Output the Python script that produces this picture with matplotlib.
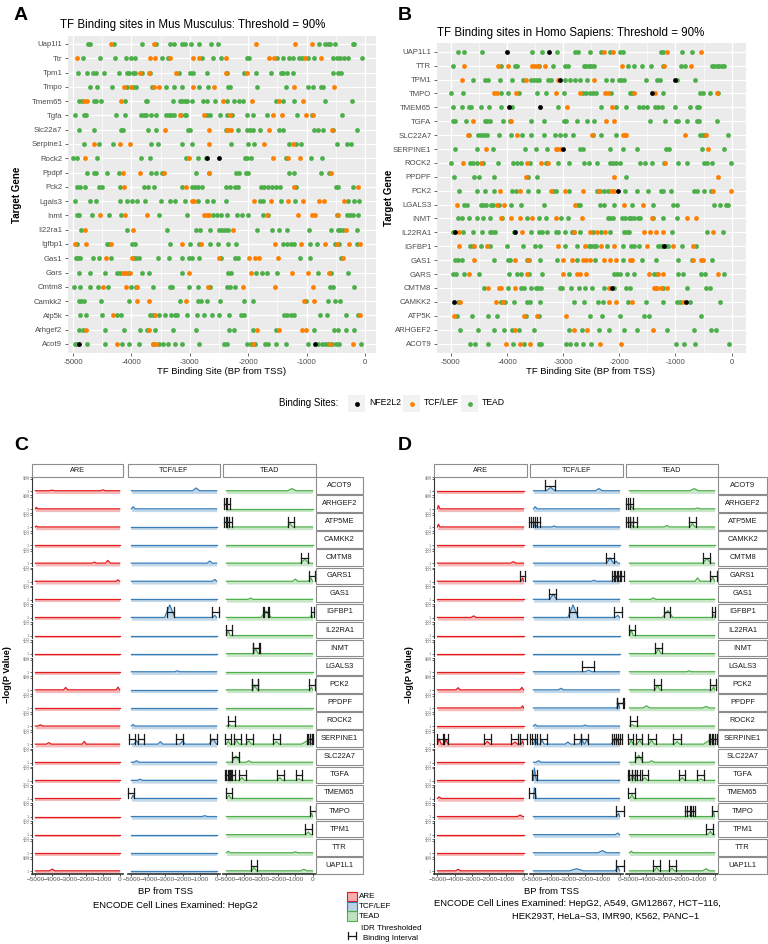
import numpy as np
import matplotlib
matplotlib.use('Agg')
import matplotlib.pyplot as plt
from matplotlib.patches import Rectangle
from matplotlib.ticker import MultipleLocator

plt.rcParams['font.family'] = ['Liberation Sans', 'DejaVu Sans']

W, H = 768, 944
fig = plt.figure(figsize=(W / 100, H / 100), dpi=100)

GREEN = '#4DAF4A'
ORANGE = '#FF7F00'
RED = '#E41A1C'
BLUE = '#377EB8'

# ---------------------------------------------------------------- panel A data
MM_GENES = ["Uap1l1", "Ttr", "Tpm1", "Tmpo", "Tmem65", "Tgfa", "Slc22a7", "Serpine1", "Rock2", "Ppdpf",
            "Pck2", "Lgals3", "Inmt", "Il22ra1", "Igfbp1", "Gas1", "Gars", "Cmtm8", "Camkk2", "Atp5k",
            "Arhgef2", "Acot9"]
MM_TEAD = [
    [-4743, -4703, -4297, -3811, -3571, -3343, -3274, -3126, -3086, -2983, -2846, -2629, -2514, -783, -686, -629, -600, -514, -211, -183],
    [-4829, -4543, -4286, -4086, -4000, -3943, -3469, -3371, -2783, -2611, -2474, -2029, -1983, -1514, -1400, -1297, -1229, -1126, -1086, -971, -874, -554, -474, -429, -360, -286, -57],
    [-4914, -4760, -4657, -4611, -4469, -4211, -4074, -4040, -3971, -3943, -3811, -3674, -3189, -2989, -2943, -2714, -2360, -2074, -1869, -1617, -1446, -1400, -1343, -1229, -554, -457, -417],
    [-4703, -4589, -4326, -4074, -3971, -3914, -3640, -3411, -3274, -3126, -2846, -2686, -2354, -2314, -1846, -1354, -971, -886, -760, -714],
    [-4897, -4840, -4646, -4600, -4514, -4114, -3754, -3726, -3286, -3171, -3126, -3086, -3046, -2971, -2771, -2703, -2571, -2360, -2246, -2154, -2097, -1526, -1411, -1217, -686, -229],
    [-4971, -4817, -4783, -4257, -4114, -3829, -3789, -3743, -3657, -3571, -3411, -3354, -3314, -3274, -3143, -3086, -3057, -2714, -2646, -2486, -2371, -2286, -2029, -1926, -1686, -1171, -914, -400],
    [-4903, -4640, -4171, -4143, -3714, -3571, -3029, -2989, -2389, -2343, -2171, -2017, -1971, -1926, -1800, -1469, -1411, -874, -800, -726, -543, -143],
    [-4817, -4554, -4314, -3657, -3543, -3126, -2960, -2303, -2000, -1903, -1297, -1183, -1103, -486, -314, -240],
    [-5000, -4931, -4583, -3829, -3686, -3069, -2857, -2731, -2057, -2017, -1960, -1354, -931, -743],
    [-4760, -4646, -4600, -4411, -4211, -3657, -3583, -3480, -2886, -2680, -2211, -2160, -2046, -2011, -1297, -1211, -760, -611],
    [-4931, -4874, -4794, -4560, -4503, -4200, -3789, -3714, -3617, -3126, -2971, -2914, -2857, -2800, -2389, -2314, -2229, -2171, -1789, -1731, -1657, -1600, -1526, -1457, -1189, -503, -457, -211],
    [-4971, -4714, -4611, -4189, -4069, -3983, -3903, -3771, -3486, -3343, -3257, -3086, -2857, -2714, -2600, -2383, -1800, -1743, -1440, -1200, -297, -183, -97],
    [-4931, -4897, -4669, -4389, -4171, -3531, -3046, -2611, -2531, -2469, -2371, -2200, -2114, -2011, -1743, -1669, -486, -314, -257, -200, -114],
    [-4857, -4074, -3389, -2897, -2829, -2646, -2503, -2457, -2400, -2343, -1857, -1600, -1469, -1331, -954, -583, -469, -429, -371, -143],
    [-4931, -4417, -4383, -3983, -3943, -3331, -2997, -2846, -2657, -2514, -2354, -2211, -1411, -1343, -1274, -1211, -937, -823, -514, -440, -131],
    [-4954, -4914, -4886, -4657, -4560, -4343, -3960, -3914, -3874, -3543, -3354, -3126, -3011, -2971, -2840, -2469, -2229, -2171, -1114, -943, -417],
    [-4903, -4714, -4451, -4246, -4200, -4057, -3811, -3703, -3126, -2343, -2303, -1869, -1771, -1686, -1514, -800, -583, -286],
    [-4989, -4874, -4714, -4571, -4400, -4011, -3926, -3629, -3343, -3297, -3017, -2857, -2657, -2371, -2314, -2229, -600, -554, -183],
    [-4899, -4857, -4815, -4521, -4042, -3176, -2857, -2815, -2714, -2487, -2067, -1916, -1017, -639, -513, -420],
    [-4874, -4773, -4496, -4244, -4185, -3681, -3639, -3529, -3429, -3319, -3261, -3219, -3050, -2882, -2756, -2613, -2504, -2336, -2126, -2067, -1387, -1328, -1269, -1219, -765, -656, -319, -126],
    [-4899, -4832, -4454, -4126, -3849, -3740, -3597, -3286, -2899, -2336, -2252, -1916, -1521, -866, -529, -462, -319, -193],
    [-4966, -4924, -4765, -4454, -4168, -4034, -3874, -3639, -3529, -3454, -3370, -3261, -3134, -2840, -2420, -2361, -2017, -1958, -1891, -1706, -1664, -1521, -1353, -975, -798, -739, -681, -630, -571, -504, -445, -67],
]
MM_TCF = [
    [-4354, -3611, -1874, -1200, -914],
    [-4926, -3686, -3600, -3343, -2943, -2846, -2389, -1651, -1560, -1029, -760],
    [-3857, -3697, -3240, -2389, -2017],
    [-4131, -4000, -3617, -3531, -2954, -2583, -1217, -526],
    [-4817, -4760, -4171, -2429, -1943, -1469, -1057],
    [-3171, -2760, -2314, -1571, -1429, -1011, -886],
    [-3429, -2674, -2371, -2297, -1640, -571],
    [-4646, -4189, -4029, -2674, -1731, -1240],
    [-4789, -3017, -1571, -1326, -1114],
    [-4137, -3846, -3434, -2669, -583],
    [-4126, -3074, -1217, -114],
    [-2960, -2931, -1903, -1611, -1314, -1069, -783, -703, -354],
    [-4531, -4114, -3726, -2760, -2714, -2669, -1686, -1143, -914, -857, -469],
    [-4789, -3971, -2257, -331],
    [-4971, -4771, -4343, -3126, -2817, -1543, -1097, -686, -474, -269, -86],
    [-4440, -3994, -2497, -1989, -1886, -1811, -1497, -371],
    [-4143, -4114, -4017, -3011, -1954, -1246, -971, -611],
    [-4486, -4097, -3897, -2686, -2097, -1543, -886],
    [-3908, -3706, -3067, -1050, -866],
    [-4311, -3597, -92],
    [-4773, -3706, -1857, -1479, -1076, -1017],
    [-4252, -3622, -3571, -1916, -597, -210],
]
MM_NFE2L2 = [[], [], [], [], [], [], [], [], [-2703, -2497], [], [], [], [], [], [], [], [], [], [], [], [],
             [-4899, -849]]

# ---------------------------------------------------------------- panel B data
HS_GENES = ["UAP1L1", "TTR", "TPM1", "TMPO", "TMEM65", "TGFA", "SLC22A7", "SERPINE1", "ROCK2", "PPDPF",
            "PCK2", "LGALS3", "INMT", "IL22RA1", "IGFBP1", "GAS1", "GARS", "CMTM8", "CAMKK2", "ATP5K",
            "ARHGEF2", "ACOT9"]
HS_TEAD = [
    [-4870, -4775, -4438, -3550, -3385, -3118, -2781, -2740, -2527, -2325, -2160, -1994, -1935, -1254, -1213, -888, -698],
    [-4970, -4101, -3864, -3817, -3432, -3183, -2959, -2911, -2633, -2586, -2544, -2503, -2444, -1846, -1746, -1598, -1438, -1225, -900, -828, -355, -308, -266, -219, -178, -130],
    [-4615, -4396, -4337, -4124, -3917, -3716, -3580, -3521, -3473, -3432, -3272, -3225, -2959, -2870, -2793, -2692, -2574, -2231, -2130, -2012, -1970, -1911, -1521, -1331, -1284, -976, -651],
    [-5000, -4781, -4112, -3982, -3787, -3462, -3302, -2988, -2645, -2586, -2527, -2468, -2408, -2148, -1817, -1775, -1213, -562, -503, -385, -237],
    [-4970, -4811, -4675, -4645, -4456, -4320, -4101, -3905, -3095, -2320, -2059, -1882, -1657, -1580, -1509, -1361, -1302, -1243, -1006, -740, -621, -574],
    [-4970, -4929, -4734, -4396, -4349, -4308, -4065, -3947, -3580, -3343, -2988, -2941, -2751, -2574, -2444, -1450, -1178, -988, -959, -799, -621, -574, -266],
    [-4675, -4509, -4456, -4408, -4361, -4142, -3923, -3728, -3580, -3343, -3148, -3065, -2970, -2822, -2468, -2320, -2059, -562, -515, -473, -59],
    [-4929, -4527, -4243, -3686, -3491, -3284, -2692, -2645, -2160, -1935, -1686, -1166, -1107, -533, -136],
    [-5000, -4657, -4598, -4538, -4420, -4160, -3894, -3828, -3746, -3598, -3302, -3095, -2900, -2633, -2533, -2397, -2160, -2112, -2059, -1994, -1639, -1550, -1420, -1201, -959, -787, -491, -432, -355, -12],
    [-4953, -4586, -4497, -4231, -3627, -3473, -1882],
    [-4852, -4544, -4396, -4231, -3905, -3846, -3627, -3450, -3178, -3136, -2900, -2397, -2337, -2266, -2207, -1893, -1686, -1497, -1254, -1213, -1083, -669, -621, -491, -367],
    [-4763, -4716, -4467, -4420, -4379, -4290, -4243, -4142, -3923, -3757, -3343, -2740, -2692, -2337, -2278, -2089, -1775, -1391, -1047, -976, -308, -207, -101, -59],
    [-4870, -4811, -4675, -4544, -4420, -4302, -4089, -3639, -3432, -3314, -3030, -2911, -2201, -2160, -2112, -1953, -1893, -1834, -1787, -1734, -1675, -1627, -1391, -1225, -965],
    [-4959, -4793, -4598, -4450, -4302, -4260, -4219, -3876, -3580, -3432, -3373, -3284, -3136, -3095, -2959, -2840, -2799, -2692, -2468, -2325, -2160, -1911, -1864, -1823, -1065, -444, -148],
    [-4657, -4615, -4467, -4302, -4006, -3710, -3503, -3414, -2970, -2751, -2544, -2503, -2456, -2408, -2219, -1935, -1787, -1746, -1657, -1302, -1260, -1225, -1166, -1124, -888, -639],
    [-4929, -4882, -4811, -4231, -3982, -3947, -3651, -3610, -3414, -3107, -2751, -2426, -1941, -1598, -1349, -947, -710, -355],
    [-4970, -4911, -4763, -4497, -3964, -3817, -3757, -3610, -3373, -2900, -2101, -2041, -1982, -1864, -1734, -1379, -1331, -947, -870, -550, -473, -136],
    [-4408, -3982, -3746, -3698, -3580, -3491, -3450, -3402, -3065, -3018, -2858, -2722, -2615, -2485, -2278, -2089, -1876, -1805, -1343, -1225, -799, -456, -385],
    [-4870, -4099, -4029, -3873, -3640, -3596, -3405, -2799, -2625, -2383, -2296, -1837, -1516, -1213, -979, -910, -736, -199],
    [-4896, -4619, -4333, -4185, -3665, -3423, -2530, -2313, -1993, -1559, -1473, -537],
    [-4835, -4523, -4229, -4047, -3917, -3787, -3527, -2903, -2660, -2357, -2183, -1924, -1690, -1153, -667, -372, -277],
    [-4653, -4567, -4333, -3899, -3700, -3423, -3397, -2946, -2877, -2773, -2643, -2513, -996, -840, -650, -43],
]
HS_TCF = [
    [-2266, -2112, -1142, -550],
    [-4775, -4160, -3976, -3550, -3509, -3450, -3325, -1953, -1195, -728],
    [-4811, -3669, -3095, -2456],
    [-4231, -4183, -3846, -3136, -2692, -2249, -2207, -1734, -1361, -266],
    [-2929, -2130],
    [-4598, -3935, -2231, -2101],
    [-4704, -3828, -2485, -1941, -1905, -1876, -828, -456],
    [-4367, -3136, -3106, -3065, -414],
    [-4787, -4467, -3639, -3391, -3272, -1183],
    [-3669, -2101, -237],
    [-4124, -3769, -3213, -2970, -2651, -2367, -2142, -2089, -326, -18],
    [-4899, -4172, -4053, -2781, -1911, -1580],
    [-4112, -3935, -3769, -3562, -3136, -2663, -1420, -787, -633],
    [-4852, -3740, -2811, -2515, -2397, -2260, -1568, -1450, -1343, -1225, -326],
    [-4852, -4586, -4349, -3095, -2615, -2320, -2101, -1509, -1047, -692],
    [-4586, -3864, -3627, -3000, -2840, -2645, -2586, -2527, -2278, -2160, -2059, -1817, -1775, -680, -544, -503],
    [-4675, -3639, -3000, -2751, -2692, -2592, -1479, -1302, -1213, -249],
    [-4337, -4142, -4112, -3864, -2189, -1379, -1320, -1260, -1142],
    [-4835, -4203, -4073, -2183, -2054, -1776, -866],
    [-4939, -3700, -3466, -2946],
    [-3856, -2816, -2573, -1404],
    [-4012, -3769, -3596, -2340, -1967],
]
HS_NFE2L2 = [[-4006, -3254], [], [-3065, -1006], [-1414], [-3965, -3420], [], [], [-3000], [], [], [-2030], [],
             [], [-4923, -3858], [-1195], [], [], [-2130], [-4939, -806], [], [], []]

# ---------------------------------------------------------------- panels C / D data
FACET_GENES = ["ACOT9", "ARHGEF2", "ATP5ME", "CAMKK2", "CMTM8", "GARS1", "GAS1", "IGFBP1", "IL22RA1", "INMT",
               "LGALS3", "PCK2", "PPDPF", "ROCK2", "SERPINE1", "SLC22A7", "TGFA", "TMEM65", "TMPO", "TPM1",
               "TTR", "UAP1L1"]
TFS = ["ARE", "TCF/LEF", "TEAD"]
BASE = 0.05  # baseline of the profile (log10 units)

# bumps: (position bp, height in log10 units, half width bp)
C_PEAKS_ARE = {"ACOT9": [(-4000, 0.15, 150), (-1000, 0.2, 150)], "ARHGEF2": [(-4950, 0.3, 100)],
               "ATP5ME": [(-4950, 0.2, 100)], "CMTM8": [(-1500, 0.2, 150), (-700, 0.5, 150)],
               "PCK2": [(-3200, 0.45, 120), (-100, 0.5, 100)], "SERPINE1": [(-4200, 0.3, 150), (-2100, 0.5, 120)],
               "UAP1L1": [(-4000, 0.35, 150)], "GARS1": [(-100, 0.3, 100)], "ROCK2": [(-4700, 0.25, 150)]}
C_PEAKS_TCF = {"ACOT9": [(-1200, 0.5, 200)], "IGFBP1": [(-2750, 2.1, 300), (-100, 0.4, 150)],
               "CMTM8": [(-400, 0.4, 150)], "GARS1": [(-100, 0.35, 150)], "ARHGEF2": [(-4900, 0.4, 120)],
               "SERPINE1": [(-4700, 0.6, 150), (-3300, 0.45, 150), (-2000, 0.6, 150), (-200, 0.9, 250)],
               "SLC22A7": [(-4700, 0.3, 150)], "TGFA": [(-4500, 0.25, 150)], "TMEM65": [(-4900, 0.6, 100)],
               "LGALS3": [(-2300, 0.2, 150)], "ROCK2": [(-4900, 0.3, 120)], "TMPO": [(-700, 0.2, 150)]}
C_PEAKS_TEAD = {"ACOT9": [(-1200, 0.4, 250)], "ATP5ME": [(-4900, 0.3, 120), (-1300, 0.6, 150)],
                "CMTM8": [(-450, 0.7, 250)], "GARS1": [(-1000, 0.4, 150), (-100, 0.6, 150)],
                "GAS1": [(-3600, 0.25, 150)], "IGFBP1": [(-2700, 1.1, 300), (-50, 0.5, 100)],
                "IL22RA1": [(-4900, 0.8, 120)], "INMT": [(-3300, 0.8, 150)],
                "PCK2": [(-3350, 0.7, 150), (-50, 0.5, 100)], "ROCK2": [(-4850, 0.3, 120)],
                "SERPINE1": [(-4900, 0.6, 120), (-4400, 0.6, 150), (-3700, 0.6, 150), (-2100, 0.5, 150), (-300, 0.6, 350)],
                "SLC22A7": [(-4450, 1.1, 250), (-3700, 0.3, 150)],
                "TGFA": [(-4800, 0.7, 150), (-4100, 0.5, 150), (-1900, 0.5, 150), (-800, 0.3, 150)],
                "TMEM65": [(-4850, 0.6, 120)], "TMPO": [(-50, 0.6, 100)], "TPM1": [(-250, 0.5, 150)],
                "TTR": [(-4900, 0.3, 120), (-1000, 0.2, 150)], "UAP1L1": [(-3400, 0.6, 150), (-500, 0.3, 200)]}

D_PEAKS_ARE = {"ARHGEF2": [(-4950, 0.6, 100)], "ATP5ME": [(-4950, 0.5, 100)], "IGFBP1": [(-2900, 0.3, 150)],
               "GARS1": [(-50, 0.6, 100)], "PCK2": [(-3800, 0.4, 120), (-100, 0.45, 100)],
               "SERPINE1": [(-4900, 0.9, 120), (-4500, 0.8, 120), (-2100, 0.5, 150), (-500, 0.4, 150), (-50, 0.6, 100)],
               "TMEM65": [(-4900, 0.3, 120)], "TMPO": [(-200, 0.3, 150)], "PPDPF": [(-50, 0.4, 100)],
               "UAP1L1": [(-3800, 0.3, 150)], "CMTM8": [(-600, 0.3, 150)]}
D_PEAKS_TCF = {"ACOT9": [(-4000, 0.6, 250), (-1200, 0.4, 200)], "ARHGEF2": [(-4900, 0.4, 120)],
               "ATP5ME": [(-4900, 0.5, 120), (-3800, 0.2, 150)], "CMTM8": [(-550, 0.9, 200), (-200, 0.4, 100)],
               "GARS1": [(-1500, 0.2, 150), (-200, 0.7, 250)], "GAS1": [(-3850, 0.9, 200)],
               "IGFBP1": [(-2700, 2.1, 300), (-100, 0.4, 150)], "LGALS3": [(-1800, 0.3, 200)],
               "PCK2": [(-3400, 0.3, 150)], "PPDPF": [(-50, 0.7, 120)], "ROCK2": [(-4900, 0.3, 120), (-2000, 0.2, 150)],
               "SERPINE1": [(-4900, 0.8, 120), (-4500, 0.7, 120), (-3000, 0.4, 150), (-2200, 0.9, 150), (-1900, 0.8, 120), (-200, 1.0, 300)],
               "SLC22A7": [(-4700, 0.3, 150)], "TGFA": [(-4950, 2.1, 120)], "TMEM65": [(-4950, 1.8, 120)],
               "TMPO": [(-50, 0.6, 120)], "TPM1": [(-100, 0.3, 150)], "TTR": [(-1000, 0.4, 250)],
               "UAP1L1": [(-2500, 0.4, 400), (-100, 0.7, 150)]}
D_PEAKS_TEAD = {"ACOT9": [(-1200, 0.4, 250)], "ARHGEF2": [(-4900, 0.5, 120), (-1000, 0.2, 150)],
                "ATP5ME": [(-4900, 0.5, 120), (-2800, 0.3, 150), (-1300, 0.6, 150)], "CMTM8": [(-450, 0.8, 250)],
                "GARS1": [(-1000, 0.6, 150), (-100, 0.7, 150)], "GAS1": [(-3600, 0.3, 150)],
                "IGFBP1": [(-2750, 1.2, 300), (-50, 0.5, 100)], "IL22RA1": [(-4900, 1.0, 120)],
                "INMT": [(-3300, 0.9, 150)], "LGALS3": [(-1500, 0.2, 150)],
                "PCK2": [(-3350, 0.8, 150), (-50, 0.6, 100)], "PPDPF": [(-4000, 0.4, 200), (-500, 0.3, 200)],
                "ROCK2": [(-4850, 0.3, 120)],
                "SERPINE1": [(-4900, 0.7, 120), (-4400, 0.7, 150), (-3700, 0.7, 150), (-2200, 0.5, 150), (-300, 0.7, 350)],
                "SLC22A7": [(-4450, 1.2, 250), (-3700, 0.3, 150)],
                "TGFA": [(-4800, 0.8, 150), (-4100, 0.5, 150), (-1900, 0.5, 150), (-800, 0.3, 150)],
                "TMEM65": [(-4850, 0.7, 120)], "TMPO": [(-1400, 0.3, 200), (-50, 0.7, 100)],
                "TPM1": [(-250, 0.6, 150)], "TTR": [(-4900, 0.3, 120)],
                "UAP1L1": [(-3400, 0.6, 150), (-2500, 0.5, 150), (-500, 0.4, 200)]}

# IDR thresholded binding intervals (start, end) bp
C_IDR_ARE = {}
C_IDR_TCF = {"IGFBP1": [(-2940, -2490), (-250, 140)],
             "SERPINE1": [(-5160, -4760), (-4630, -4240), (-2370, -1980), (-400, 0)],
             "TMEM65": [(-5220, -4860)]}
C_IDR_TEAD = {"ARHGEF2": [(-5150, -4950), (-5000, -4820)],
              "ATP5ME": [(-5150, -4950), (-5050, -4850), (-4950, -4700), (-1450, -1060)],
              "CMTM8": [(-647, -255)], "GARS1": [(-220, 130)],
              "IGFBP1": [(-2880, -2550), (-2820, -2600), (-100, 80)],
              "IL22RA1": [(-5040, -4650)], "INMT": [(-3470, -3080), (-3440, -3100)],
              "PCK2": [(-3530, -3140), (-3500, -3160), (-220, 170)], "ROCK2": [(-4920, -4530)],
              "SERPINE1": [(-5100, -4760), (-4550, -4180), (-3860, -3430), (-2300, -1900), (-330, -150), (-250, -50), (-150, 0)],
              "SLC22A7": [(-4650, -4260)],
              "TGFA": [(-5100, -4850), (-5000, -4750), (-4900, -4650), (-4800, -4500), (-4260, -3860), (-2060, -1670), (-980, -590)],
              "TMEM65": [(-5040, -4650)], "TMPO": [(-150, 200)], "TPM1": [(-450, -60)], "UAP1L1": [(-3590, -3200)]}

D_IDR_ARE = {"GARS1": [(-196, 98)],
             "SERPINE1": [(-5039, -4647), (-4706, -4373), (-2294, -1902), (-725, -333), (-196, 196)]}
D_IDR_TCF = {"ACOT9": [(-4353, -3725)], "ATP5ME": [(-5235, -4900), (-5150, -4800), (-5000, -4608)],
             "CMTM8": [(-784, -333)], "GARS1": [(-450, -100), (-350, 0), (-250, 100), (-150, 255)],
             "GAS1": [(-4078, -3667)], "IGFBP1": [(-2941, -2451), (-294, 137)], "LGALS3": [(-2157, -1510)],
             "PPDPF": [(-157, 235), (-120, 200)],
             "SERPINE1": [(-5196, -4900), (-5100, -4765), (-4608, -4216), (-2647, -2255), (-2255, -1824), (-431, -100), (-300, 0), (-200, 137)],
             "TGFA": [(-5098, -4804)], "TMEM65": [(-5255, -4902)], "TMPO": [(-196, 235)], "UAP1L1": [(-196, 235)]}
D_IDR_TEAD = {"ARHGEF2": [(-5216, -4950), (-5100, -4804)],
              "ATP5ME": [(-5216, -4950), (-5100, -4800), (-4950, -4569), (-1510, -1078)],
              "CMTM8": [(-686, -255)], "GARS1": [(-255, 137)],
              "IGFBP1": [(-2941, -2608), (-157, 40)], "IL22RA1": [(-5039, -4647)], "INMT": [(-3490, -3098)],
              "PCK2": [(-3549, -3157), (-255, 98)], "ROCK2": [(-4961, -4569)],
              "SERPINE1": [(-5098, -4804), (-4627, -4235), (-3882, -3431), (-2412, -1980), (-353, -150), (-250, 0), (-100, 137)],
              "SLC22A7": [(-4667, -4275)],
              "TGFA": [(-5098, -4850), (-5000, -4700), (-4850, -4550), (-4700, -4373), (-4275, -3882), (-2118, -1725), (-1039, -647)],
              "TMEM65": [(-5059, -4667)], "TMPO": [(-1725, -1400), (-1600, -1250), (-1450, -1137), (-157, 196)],
              "TPM1": [(-510, -98)], "UAP1L1": [(-3627, -3196), (-2667, -2275)]}


# ---------------------------------------------------------------- helpers
def ax_px(x0, y0, x1, y1):
    return fig.add_axes([x0 / W, 1 - y1 / H, (x1 - x0) / W, (y1 - y0) / H])


def txt(x, y, s, **kw):
    fig.text(x / W, 1 - y / H, s, **kw)


def dot_panel(box, genes, tead, tcf, nfe, xlim, ylim):
    ax = ax_px(*box)
    ax.set_facecolor('#EBEBEB')
    n = len(genes)
    for i in range(n):
        yv = n - i
        ax.scatter(tead[i], [yv] * len(tead[i]), s=12, color=GREEN, linewidths=0, zorder=3)
        ax.scatter(tcf[i], [yv] * len(tcf[i]), s=12, color=ORANGE, linewidths=0, zorder=4)
        ax.scatter(nfe[i], [yv] * len(nfe[i]), s=12, color='black', linewidths=0, zorder=5)
    ax.set_xlim(*xlim)
    ax.set_ylim(*ylim)
    ax.set_yticks(range(n, 0, -1))
    ax.set_yticklabels(genes)
    ax.set_xticks([-5000, -4000, -3000, -2000, -1000, 0])
    ax.set_xticklabels(['-5000', '-4000', '-3000', '-2000', '-1000', '0'])
    ax.xaxis.set_minor_locator(MultipleLocator(500))
    ax.grid(True, which='major', color='white', lw=0.9)
    ax.grid(True, which='minor', axis='x', color='white', lw=0.45)
    ax.set_axisbelow(True)
    for s in ax.spines.values():
        s.set_visible(False)
    ax.tick_params(axis='both', which='major', labelsize=5.6, colors='#4D4D4D', length=2.5, width=0.6, pad=1.5)
    ax.tick_params(axis='x', which='minor', length=0)
    for lab in ax.get_xticklabels() + ax.get_yticklabels():
        lab.set_color('#4D4D4D')
    return ax


# ---------------------------------------------------------------- panels A & B
dot_panel((68, 36, 376, 353), MM_GENES, MM_TEAD, MM_TCF, MM_NFE2L2, (-5086, 188), (0.37, 22.56))
dot_panel((437, 43, 746, 353), HS_GENES, HS_TEAD, HS_TCF, HS_NFE2L2, (-5248, 257), (0.32, 22.63))

txt(14, 16, 'A', fontsize=14, fontweight='bold', ha='left', va='center')
txt(398, 16, 'B', fontsize=14, fontweight='bold', ha='left', va='center')
txt(60, 25, 'TF Binding sites in Mus Musculus: Threshold = 90%', fontsize=8.3, ha='left', va='center')
txt(437, 33, 'TF Binding sites in Homo Sapiens: Threshold = 90%', fontsize=8.3, ha='left', va='center')
txt(17, 195, 'Target Gene', fontsize=7, fontweight='bold', rotation=90, ha='center', va='center')
txt(389, 198, 'Target Gene', fontsize=7, fontweight='bold', rotation=90, ha='center', va='center')
txt(222, 371, 'TF Binding Site (BP from TSS)', fontsize=6.8, ha='center', va='center')
txt(591, 371, 'TF Binding Site (BP from TSS)', fontsize=6.8, ha='center', va='center')

# legend for A/B
LEG_LABELS = ['NFE2L2', 'TCF/LEF', 'TEAD']
LEG_COLORS = ['black', ORANGE, GREEN]
LEG_KEY_X = [348, 403, 461]
txt(338, 403, 'Binding Sites:', fontsize=7, ha='right', va='center')
for kx, lab, col in zip(LEG_KEY_X, LEG_LABELS, LEG_COLORS):
    fig.patches.append(Rectangle((kx / W, 1 - 412 / H), 17 / W, 17 / H, transform=fig.transFigure,
                                 facecolor='#F2F2F2', edgecolor='none'))
    fig.lines.append(plt.Line2D([(kx + 8.5) / W], [1 - 403.5 / H], transform=fig.transFigure,
                                marker='o', markersize=3.5, color=col, markeredgewidth=0))
    txt(kx + 21, 403, lab, fontsize=6.2, ha='left', va='center')


# ---------------------------------------------------------------- panels C & D
def profile(bumps):
    pts = [(-5000, BASE), (0, BASE)]
    for c, h, w in bumps:
        pts += [(max(c - w, -5000), BASE), (c, h), (min(c + w, 0), BASE)]
    pts.sort()
    xs = [p[0] for p in pts]
    ys = [p[1] for p in pts]
    return xs, ys


def facet_panel(cols_x, strip_x, peaks, idrs):
    colors = [RED, BLUE, GREEN]
    row_top0, row_step, row_h = 477, 18.1, 16.5
    n = len(FACET_GENES)
    for j, tf in enumerate(TFS):
        x0, x1 = cols_x[j]
        fig.patches.append(Rectangle((x0 / W, 1 - 477 / H), (x1 - x0) / W, 13.5 / H, transform=fig.transFigure,
                                     facecolor='white', edgecolor='#8C8C8C', lw=0.8))
        txt((x0 + x1) / 2, 470, tf, fontsize=5.2, ha='center', va='center', color='#1A1A1A')
        for i, g in enumerate(FACET_GENES):
            top = row_top0 + row_step * i
            ax = ax_px(x0, top, x1, top + row_h)
            ax.set_facecolor('none')
            xs, ys = profile(peaks[j].get(g, []))
            ax.fill_between(xs, -0.4, ys, color=colors[j], alpha=0.3, lw=0)
            ax.plot(xs, ys, color=colors[j], lw=0.9)
            for a, b in idrs[j].get(g, []):
                ax.plot([a, b], [0.9, 0.9], color='#1A1A1A', lw=0.9, clip_on=False, zorder=5)
                ax.plot([a, a], [0.1, 1.75], color='#1A1A1A', lw=0.9, clip_on=False, zorder=5)
                ax.plot([b, b], [0.1, 1.75], color='#1A1A1A', lw=0.9, clip_on=False, zorder=5)
            ax.set_xlim(-5200, 200)
            ax.set_ylim(-0.4, 2.3)
            for s in ['top', 'right']:
                ax.spines[s].set_visible(False)
            if j == 0:
                ax.spines['left'].set_color('#333333')
                ax.spines['left'].set_linewidth(0.8)
                ax.set_yticks([0, 2, 2.3])
                ax.set_yticklabels(['1', '100', '200'])
                ax.tick_params(axis='y', labelsize=3, colors='#333333', length=1.5, width=0.5, pad=0.5)
                for lab in ax.get_yticklabels():
                    lab.set_color('#777777')
            else:
                ax.spines['left'].set_visible(False)
                ax.set_yticks([])
            if i == n - 1:
                ax.spines['bottom'].set_color('#333333')
                ax.spines['bottom'].set_linewidth(1.2)
                ax.set_xticks([-5000, -4000, -3000, -2000, -1000, 0])
                ax.set_xticklabels(['\u22125000', '\u22124000', '\u22123000', '\u22122000', '\u22121000', '0'])
                ax.tick_params(axis='x', labelsize=4.6, length=1.5, width=0.5, pad=0.8)
                for lab in ax.get_xticklabels():
                    lab.set_color('#555555')
            else:
                ax.spines['bottom'].set_visible(False)
                ax.set_xticks([])
    sx0, sx1 = strip_x
    for i, g in enumerate(FACET_GENES):
        top = row_top0 + row_step * i
        fig.patches.append(Rectangle((sx0 / W, 1 - (top + row_h) / H), (sx1 - sx0) / W, row_h / H,
                                     transform=fig.transFigure, facecolor='white', edgecolor='#8C8C8C', lw=0.8))
        txt((sx0 + sx1) / 2, top + row_h / 2, g, fontsize=5.4, ha='center', va='center', color='#1A1A1A')


facet_panel([(32, 123), (128, 220), (223, 316)], (316, 363),
            [C_PEAKS_ARE, C_PEAKS_TCF, C_PEAKS_TEAD], [C_IDR_ARE, C_IDR_TCF, C_IDR_TEAD])
facet_panel([(434, 527), (530, 623), (626, 718)], (718, 767),
            [D_PEAKS_ARE, D_PEAKS_TCF, D_PEAKS_TEAD], [D_IDR_ARE, D_IDR_TCF, D_IDR_TEAD])

txt(14, 445, 'C', fontsize=14, fontweight='bold', ha='left', va='center')
txt(398, 445, 'D', fontsize=14, fontweight='bold', ha='left', va='center')
txt(8, 675, '\u2212log(P Value)', fontsize=6.5, fontweight='bold', rotation=90, ha='center', va='center')
txt(409, 675, '\u2212log(P Value)', fontsize=6.5, fontweight='bold', rotation=90, ha='center', va='center')

txt(166, 892, 'BP from TSS', fontsize=6.8, ha='center', va='center')
txt(175, 906, 'ENCODE Cell Lines Examined: HepG2', fontsize=6.8, ha='center', va='center')
txt(552, 892, 'BP from TSS', fontsize=6.8, ha='center', va='center')
txt(577, 904, 'ENCODE Cell Lines Examined: HepG2, A549, GM12867, HCT\u2212116,', fontsize=6.8, ha='center', va='center')
txt(606, 916, 'HEK293T, HeLa\u2212S3, IMR90, K562, PANC\u22121', fontsize=6.8, ha='center', va='center')

# legend for C/D
LEG2_LABELS = ['ARE', 'TCF/LEF', 'TEAD']
LEG2_COLORS = [RED, BLUE, GREEN]
for k, (lab, col) in enumerate(zip(LEG2_LABELS, LEG2_COLORS)):
    y0 = 892 + 9.7 * k
    fig.patches.append(Rectangle((347 / W, 1 - (y0 + 9.2) / H), 10 / W, 9.2 / H, transform=fig.transFigure,
                                 facecolor=col, alpha=0.35, edgecolor='none'))
    fig.patches.append(Rectangle((347 / W, 1 - (y0 + 9.2) / H), 10 / W, 9.2 / H, transform=fig.transFigure,
                                 facecolor='none', edgecolor=col, lw=0.8))
    txt(359, y0 + 4.8, lab, fontsize=5.8, ha='left', va='center')
fig.lines.append(plt.Line2D([348 / W, 356 / W], [1 - 935.5 / H, 1 - 935.5 / H], transform=fig.transFigure, color='#1A1A1A', lw=0.9))
fig.lines.append(plt.Line2D([348 / W, 348 / W], [1 - 932 / H, 1 - 939 / H], transform=fig.transFigure, color='#1A1A1A', lw=0.9))
fig.lines.append(plt.Line2D([356 / W, 356 / W], [1 - 932 / H, 1 - 939 / H], transform=fig.transFigure, color='#1A1A1A', lw=0.9))
txt(361, 929, 'IDR Thresholded', fontsize=5.8, ha='left', va='center')
txt(363, 939, 'Binding Interval', fontsize=5.8, ha='left', va='center')

fig.savefig('out.png', dpi=100)
